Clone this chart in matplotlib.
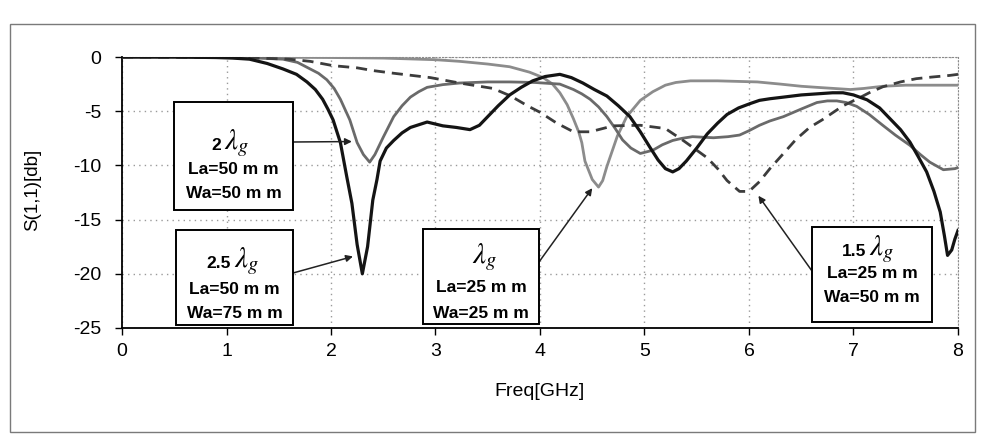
import matplotlib
matplotlib.use('Agg')
import matplotlib.pyplot as plt
from matplotlib.patches import Rectangle

plt.rcParams['font.family'] = ['Liberation Sans', 'DejaVu Sans']
plt.rcParams['mathtext.fontset'] = 'stix'
plt.rcParams['axes.unicode_minus'] = False

# 2.5 lambda_g  (La=50 mm, Wa=75 mm) - black solid
f_25 = [0, 0.5, 0.9, 1.06, 1.22, 1.39, 1.54, 1.67, 1.77, 1.85, 1.92, 1.97, 2.02, 2.09,
        2.15, 2.2, 2.25, 2.3, 2.35, 2.4, 2.44, 2.47, 2.53, 2.6, 2.68, 2.76, 2.92, 3.07,
        3.2, 3.33, 3.42, 3.49, 3.6, 3.71, 3.82, 3.93, 4.05, 4.19, 4.3, 4.41, 4.52, 4.64,
        4.75, 4.86, 4.96, 5.05, 5.13, 5.2, 5.27, 5.33, 5.4, 5.5, 5.6, 5.7, 5.79, 5.9,
        6.01, 6.1, 6.2, 6.33, 6.5, 6.65, 6.8, 6.9, 7.0, 7.13, 7.25, 7.35, 7.45, 7.54,
        7.62, 7.7, 7.77, 7.83, 7.87, 7.9, 7.94, 7.97, 8.0]
s_25 = [0, 0, -0.05, -0.1, -0.2, -0.6, -1.1, -1.6, -2.3, -3.0, -3.9, -4.8, -5.8, -7.9,
        -11.0, -13.5, -17.3, -20.0, -17.5, -13.2, -11.3, -9.6, -8.4, -7.7, -7.0, -6.5, -6.0, -6.35,
        -6.5, -6.7, -6.3, -5.6, -4.5, -3.5, -2.8, -2.2, -1.8, -1.6, -1.9, -2.4, -3.0, -3.6,
        -4.5, -5.5, -6.9, -8.3, -9.5, -10.3, -10.6, -10.3, -9.6, -8.4, -7.1, -6.1, -5.3, -4.7,
        -4.3, -4.0, -3.85, -3.7, -3.5, -3.4, -3.3, -3.3, -3.5, -3.95, -4.7, -5.7, -6.7, -7.85,
        -9.2, -10.6, -12.4, -14.3, -16.5, -18.3, -17.8, -16.8, -16.0]

# 2 lambda_g  (La=50 mm, Wa=50 mm) - gray solid
f_20 = [0, 0.5, 1.0, 1.3, 1.54, 1.68, 1.8, 1.88, 1.96, 2.03, 2.09, 2.18, 2.25, 2.31,
        2.37, 2.42, 2.5, 2.6, 2.68, 2.76, 2.84, 2.92, 3.07, 3.23, 3.5, 3.71, 3.95, 4.19,
        4.32, 4.4, 4.48, 4.56, 4.64, 4.72, 4.79, 4.87, 4.96, 5.08, 5.17, 5.27, 5.36, 5.46,
        5.56, 5.66, 5.8, 5.91, 6.0, 6.1, 6.2, 6.33, 6.5, 6.65, 6.75, 6.84, 6.93, 7.03,
        7.15, 7.28, 7.4, 7.54, 7.64, 7.73, 7.86, 7.97, 8.0]
s_20 = [0, 0, -0.05, -0.1, -0.2, -0.5, -1.1, -1.5, -2.1, -2.9, -3.9, -5.8, -7.9, -9.0,
        -9.7, -9.0, -7.4, -5.5, -4.5, -3.7, -3.2, -2.8, -2.55, -2.4, -2.3, -2.3, -2.35, -2.5,
        -3.0, -3.4, -3.9, -4.6, -5.5, -6.6, -7.65, -8.4, -8.9, -8.6, -8.1, -7.7, -7.5, -7.35,
        -7.4, -7.45, -7.35, -7.2, -6.8, -6.3, -5.9, -5.5, -4.8, -4.2, -4.05, -4.05, -4.2, -4.55,
        -5.3, -6.3, -7.2, -8.15, -9.0, -9.7, -10.4, -10.3, -10.2]

# lambda_g  (La=25 mm, Wa=25 mm) - light gray solid
f_10 = [0, 1.0, 2.0, 2.5, 3.0, 3.23, 3.5, 3.71, 3.9, 4.03, 4.12, 4.19, 4.26, 4.32,
        4.37, 4.4, 4.43, 4.5, 4.56, 4.6, 4.64, 4.69, 4.74, 4.83, 4.96, 5.08, 5.2, 5.3,
        5.44, 5.7, 6.08, 6.3, 6.5, 6.65, 6.97, 7.1, 7.28, 7.5, 7.75, 8.0]
s_10 = [0, 0, -0.05, -0.1, -0.25, -0.4, -0.65, -0.9, -1.4, -1.9, -2.5, -3.3, -4.4, -5.7,
        -6.9, -7.9, -9.6, -11.3, -12.0, -11.4, -10.1, -8.7, -7.3, -5.5, -4.0, -3.2, -2.6, -2.35,
        -2.2, -2.2, -2.3, -2.5, -2.7, -2.8, -3.0, -2.9, -2.7, -2.6, -2.6, -2.6]

# 1.5 lambda_g  (La=25 mm, Wa=50 mm) - dashed
f_15 = [0, 1.0, 1.3, 1.6, 1.8, 2.02, 2.25, 2.4, 2.6, 2.95, 3.23, 3.55, 3.72, 3.88,
        4.0, 4.16, 4.32, 4.48, 4.7, 4.96, 5.2, 5.37, 5.5, 5.6, 5.7, 5.79, 5.91, 6.0,
        6.1, 6.2, 6.33, 6.45, 6.58, 6.7, 6.8, 6.9, 7.03, 7.15, 7.28, 7.45, 7.6, 7.75,
        7.92, 8.0]
s_15 = [0, -0.05, -0.1, -0.2, -0.4, -0.8, -1.0, -1.25, -1.5, -1.9, -2.4, -2.9, -3.6, -4.5,
        -5.1, -6.1, -6.9, -6.9, -6.35, -6.3, -6.6, -7.7, -8.6, -9.3, -10.3, -11.4, -12.4, -12.4,
        -11.5, -10.3, -8.9, -7.6, -6.5, -5.8, -5.15, -4.5, -3.9, -3.3, -2.75, -2.3, -2.0, -1.85,
        -1.7, -1.6]

x_ticks = [0, 1, 2, 3, 4, 5, 6, 7, 8]
y_ticks = [0, -5, -10, -15, -20, -25]

W, H = 981, 438


def fxy(X, Y):
    # pixel position in the figure -> figure fraction
    return X / W, 1 - Y / H


fig = plt.figure(figsize=(W / 100, H / 100), dpi=100)
ax = fig.add_axes([122 / W, 1 - 328 / H, (958 - 122) / W, (328 - 57) / H])

ax.plot(f_10, s_10, color='#8c8c8c', lw=2.0, zorder=3)
ax.plot(f_20, s_20, color='#6a6a6a', lw=2.0, zorder=3)
ax.plot(f_15, s_15, color='#3c3c3c', lw=2.0, linestyle=(0, (4, 2.5)), zorder=4)
ax.plot(f_25, s_25, color='#141414', lw=2.3, zorder=5)

ax.set_xlim(0, 8)
ax.set_ylim(-25, 0)
ax.set_xticks(x_ticks)
ax.set_yticks(y_ticks)
ax.tick_params(labelsize=14, length=5, width=1, direction='out')
ax.tick_params(axis='x', pad=6)
ax.tick_params(axis='y', pad=10)
ax.grid(True, color='#9a9a9a', linestyle=(0, (1, 3)), lw=1)
for side in ['top', 'right']:
    ax.spines[side].set_color('#8a8a8a')
    ax.spines[side].set_linestyle((0, (1, 2)))
for side in ['left', 'bottom']:
    ax.spines[side].set_linewidth(1.3)

fig.text(*fxy(539, 392), 'Freq[GHz]', fontsize=14, ha='center', va='center')
fig.text(*fxy(33, 190), 'S(1,1)[db]', fontsize=13.5, ha='center', va='center',
         rotation=90)

# annotation boxes: (left, top, right, bottom) in pixels, label lines
boxes = [
    ((174, 102, 293, 210), '2', (224, 143), ['La=50 m m', 'Wa=50 m m'], (169, 194)),
    ((176, 230, 293, 325), '2.5', (234, 261), ['La=50 m m', 'Wa=75 m m'], (289, 313)),
    ((423, 229, 539, 324), '', (472, 257), ['La=25 m m', 'Wa=25 m m'], (288, 313)),
    ((812, 227, 932, 322), '1.5', (869, 249), ['La=25 m m', 'Wa=50 m m'], (274, 298)),
]
for (l, t, r, b), num, (lx, ly), lines, ys in boxes:
    x0, y0 = fxy(l, b)
    x1, y1 = fxy(r, t)
    fig.patches.append(Rectangle((x0, y0), x1 - x0, y1 - y0, transform=fig.transFigure,
                                 facecolor='white', edgecolor='black', lw=1.4, zorder=6))
    if num:
        fig.text(*fxy(lx - 3, ly + 2), num, fontsize=12.5, fontweight='bold',
                 ha='right', va='center', zorder=7)
    fig.text(*fxy(lx, ly), r'$\lambda_g$', fontsize=21, ha='left', va='center', zorder=7)
    cx = (l + r) / 2
    for txt, yy in zip(lines, ys):
        fig.text(*fxy(cx, yy), txt, fontsize=12.5, fontweight='bold',
                 ha='center', va='center', zorder=7)

# arrows: start on box edge (pixels), tip on curve (data)
arrows = [((293, 142), (2.2, -7.8)),
          ((293, 273), (2.21, -18.4)),
          ((539, 262), (4.5, -12.1)),
          ((812, 271), (6.09, -12.8))]
for start, tip in arrows:
    ax.annotate('', xy=tip, xycoords='data', xytext=fxy(*start),
                textcoords='figure fraction',
                arrowprops=dict(arrowstyle='-|>', color='#222222', lw=1.1,
                                mutation_scale=10, shrinkA=0, shrinkB=0),
                zorder=8)

# outer chart frame
fx0, fy0 = fxy(10, 432)
fx1, fy1 = fxy(975, 24)
fig.patches.append(Rectangle((fx0, fy0), fx1 - fx0, fy1 - fy0, transform=fig.transFigure,
                             facecolor='none', edgecolor='#7a7a7a', lw=1))

fig.savefig('out.png', dpi=100)
